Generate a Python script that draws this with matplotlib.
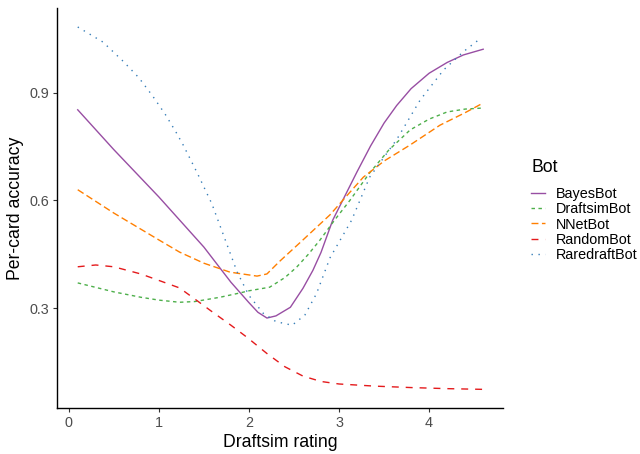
import numpy as np
import matplotlib.pyplot as plt

plt.rcParams['font.family'] = ['Liberation Sans', 'DejaVu Sans']

# values
bayes_x = [0.1, 0.5, 1.0, 1.5, 1.8, 2.0, 2.1, 2.2, 2.3, 2.46, 2.6, 2.71, 2.8, 2.93, 3.04, 3.2, 3.35, 3.5, 3.64, 3.8, 4.0, 4.2, 4.38, 4.6]
bayes_y = [0.853, 0.742, 0.61, 0.47, 0.372, 0.315, 0.288, 0.272, 0.278, 0.302, 0.355, 0.405, 0.455, 0.545, 0.60, 0.68, 0.752, 0.816, 0.865, 0.912, 0.955, 0.985, 1.006, 1.022]

draftsim_x = [0.1, 0.5, 0.8, 1.0, 1.23, 1.4, 1.68, 1.9, 2.0, 2.23, 2.4, 2.53, 2.66, 2.79, 2.95, 3.12, 3.34, 3.55, 3.79, 4.0, 4.2, 4.4, 4.6]
draftsim_y = [0.37, 0.345, 0.33, 0.322, 0.316, 0.318, 0.33, 0.342, 0.348, 0.358, 0.385, 0.414, 0.45, 0.49, 0.545, 0.60, 0.677, 0.74, 0.797, 0.827, 0.847, 0.855, 0.858]

nnet_x = [0.1, 0.5, 1.0, 1.23, 1.5, 1.79, 2.09, 2.2, 2.34, 2.6, 2.9, 3.04, 3.27, 3.5, 3.79, 4.12, 4.4, 4.6]
nnet_y = [0.63, 0.565, 0.49, 0.456, 0.425, 0.40, 0.389, 0.395, 0.43, 0.49, 0.56, 0.60, 0.665, 0.71, 0.755, 0.81, 0.845, 0.872]

random_x = [0.1, 0.3, 0.5, 0.8, 1.0, 1.23, 1.4, 1.6, 1.8, 1.98, 2.2, 2.4, 2.6, 2.8, 3.0, 3.4, 3.8, 4.2, 4.6]
random_y = [0.415, 0.42, 0.415, 0.395, 0.377, 0.356, 0.325, 0.288, 0.252, 0.218, 0.173, 0.136, 0.11, 0.095, 0.088, 0.082, 0.078, 0.075, 0.073]

rare_x = [0.1, 0.38, 0.61, 0.78, 0.93, 1.07, 1.19, 1.27, 1.43, 1.59, 1.73, 1.87, 2.0, 2.16, 2.3, 2.48, 2.62, 2.75, 2.9, 3.14, 3.34, 3.64, 3.9, 4.16, 4.38, 4.58]
rare_y = [1.084, 1.042, 0.987, 0.942, 0.892, 0.841, 0.791, 0.755, 0.675, 0.59, 0.495, 0.40, 0.335, 0.285, 0.262, 0.252, 0.28, 0.34, 0.44, 0.545, 0.665, 0.77, 0.88, 0.964, 1.015, 1.054]

x_ticks = [0, 1, 2, 3, 4]
y_ticks = [0.3, 0.6, 0.9]

series = [
    ("BayesBot", bayes_x, bayes_y, "#984EA3", None),
    ("DraftsimBot", draftsim_x, draftsim_y, "#4DAF4A", (2.5, 2.5)),
    ("NNetBot", nnet_x, nnet_y, "#FF7F00", (5, 2.5)),
    ("RandomBot", random_x, random_y, "#E41A1C", (5, 5)),
    ("RaredraftBot", rare_x, rare_y, "#377EB8", (1, 4)),
]

fig = plt.figure(figsize=(6.4, 4.54), dpi=100)
ax = fig.add_axes([57 / 640, 1 - 408 / 454, 446 / 640, 400 / 454])

for name, xs, ys, col, dash in series:
    line, = ax.plot(xs, ys, color=col, lw=1.0, label=name)
    if dash is not None:
        line.set_dashes(dash)

ax.set_xlim(-0.13, 4.82)
ax.set_ylim(0.021, 1.137)
ax.set_xticks(x_ticks)
ax.set_xticklabels([str(t) for t in x_ticks])
ax.set_yticks(y_ticks)
ax.set_yticklabels([f"{t:.1f}" for t in y_ticks])
for side in ["top", "right"]:
    ax.spines[side].set_visible(False)
for side in ["left", "bottom"]:
    ax.spines[side].set_linewidth(1.0)
ax.tick_params(length=3.2, width=0.8, colors="#333333", labelcolor="#4D4D4D",
               labelsize=10.4, pad=2.5)
ax.set_xlabel("Draftsim rating", fontsize=12.7, labelpad=3)
ax.set_ylabel("Per-card accuracy", fontsize=12.7, labelpad=4)

leg = fig.legend(loc="upper left", bbox_to_anchor=(524 / 640, 1 - 152 / 454),
                 title="Bot", frameon=False, fontsize=10.4, title_fontsize=12.7,
                 handlelength=0.95, handletextpad=0.75, labelspacing=0.1,
                 borderpad=0)
leg._legend_box.align = "left"
leg._legend_box.sep = 7.5

fig.savefig("out.png", dpi=100)
